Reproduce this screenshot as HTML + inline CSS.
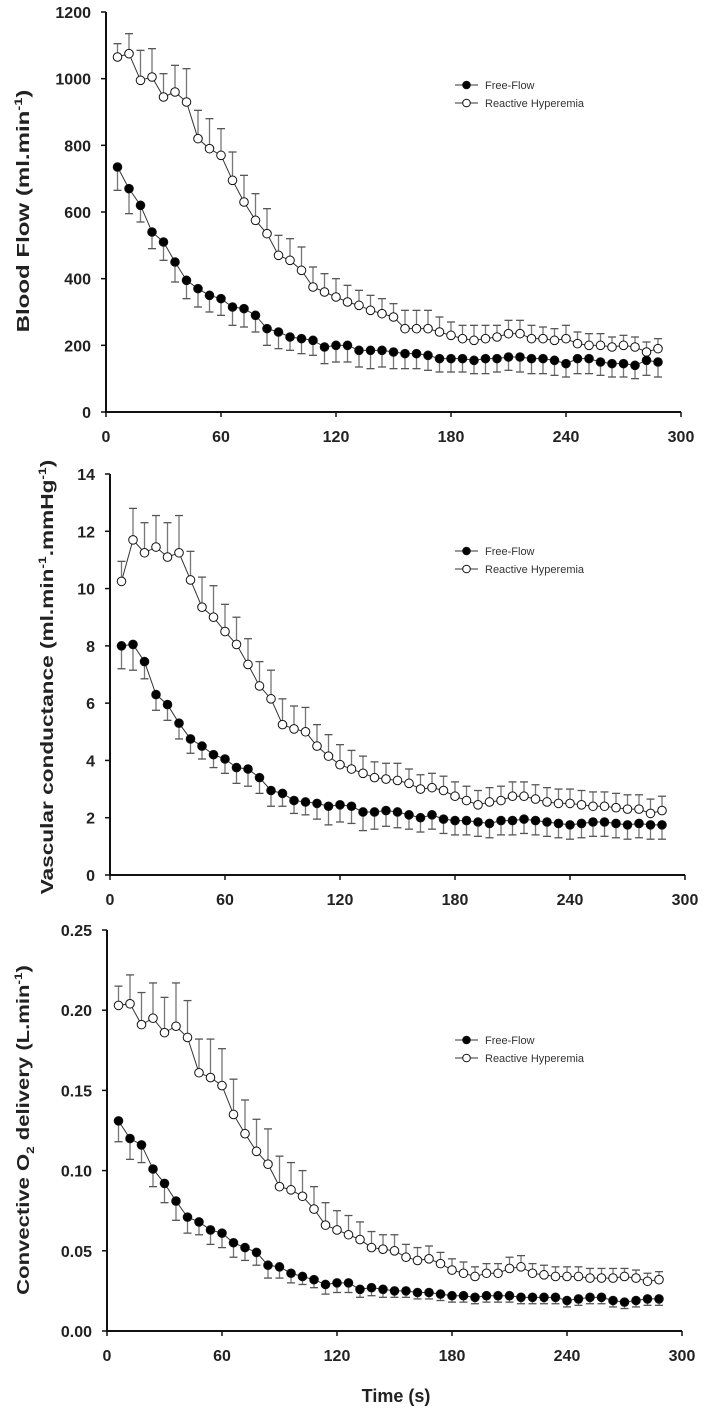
<!DOCTYPE html>
<html><head><meta charset="utf-8"><style>
body{margin:0;background:#fff;}
svg{display:block;font-family:"Liberation Sans",Arial,sans-serif;}
.tk{font-size:16px;font-weight:bold;fill:#222;}
.ttl{font-size:18px;font-weight:bold;fill:#222;}
.lg{font-size:11px;fill:#333;}
</style></head><body>
<svg id="c" width="720" height="1413"></svg>
<script>
const times=[6,12,18,24,30,36,42,48,54,60,66,72,78,84,90,96,102,108,114,120,126,132,138,144,150,156,162,168,174,180,186,192,198,204,210,216,222,228,234,240,246,252,258,264,270,276,282,288];
const xTicks=[0,60,120,180,240,300];
const bfFree=[735,670,620,540,510,450,395,370,350,340,315,310,290,250,240,225,220,215,195,200,200,185,185,185,180,175,175,170,160,160,160,155,160,160,165,165,160,160,155,145,160,160,150,145,145,140,155,150];
const bfFreeErr=[70,75,50,50,55,60,55,55,50,50,55,55,50,50,50,40,45,45,50,50,50,50,55,50,50,45,45,45,40,40,40,40,45,40,40,45,45,45,45,40,45,45,40,40,40,40,45,45];
const bfRH=[1065,1075,995,1005,945,960,930,820,790,770,695,630,575,535,470,455,425,375,360,345,330,320,305,295,285,250,250,250,240,230,220,215,220,225,235,235,220,220,215,220,205,200,200,195,200,195,180,190];
const bfRHErr=[40,60,90,85,70,80,100,85,90,80,85,80,80,75,60,65,70,60,55,55,50,45,45,45,40,55,55,55,45,40,40,45,40,35,40,40,40,35,35,40,35,35,35,30,30,30,30,30];
const bfTicks=[0,200,400,600,800,1000,1200];
const vcFree=[8.0,8.05,7.45,6.3,5.95,5.3,4.75,4.5,4.2,4.05,3.75,3.7,3.4,2.95,2.85,2.6,2.55,2.5,2.4,2.45,2.4,2.2,2.2,2.25,2.2,2.1,2.0,2.1,1.95,1.9,1.9,1.85,1.8,1.9,1.9,1.95,1.9,1.85,1.8,1.75,1.8,1.85,1.85,1.8,1.75,1.8,1.75,1.75];
const vcFreeErr=[0.8,0.9,0.6,0.55,0.55,0.55,0.5,0.45,0.45,0.5,0.55,0.6,0.55,0.55,0.45,0.45,0.45,0.55,0.65,0.6,0.6,0.65,0.6,0.55,0.55,0.5,0.5,0.5,0.5,0.5,0.5,0.5,0.5,0.5,0.5,0.5,0.5,0.5,0.5,0.5,0.5,0.5,0.5,0.5,0.5,0.5,0.5,0.5];
const vcRH=[10.25,11.7,11.25,11.45,11.1,11.25,10.3,9.35,9.0,8.5,8.05,7.35,6.6,6.15,5.25,5.1,5.0,4.5,4.15,3.85,3.7,3.55,3.4,3.35,3.3,3.2,3.0,3.05,2.95,2.75,2.6,2.45,2.55,2.6,2.75,2.75,2.65,2.55,2.5,2.5,2.45,2.4,2.4,2.35,2.3,2.3,2.15,2.25];
const vcRHErr=[0.7,1.1,1.05,1.1,1.2,1.3,1.0,1.05,1.1,0.95,0.95,0.9,0.85,1.0,0.9,0.8,0.85,0.75,0.75,0.7,0.65,0.6,0.55,0.55,0.6,0.5,0.5,0.5,0.5,0.5,0.5,0.5,0.5,0.5,0.5,0.5,0.5,0.5,0.5,0.5,0.5,0.5,0.5,0.5,0.5,0.5,0.5,0.5];
const vcTicks=[0,2,4,6,8,10,12,14];
const o2Free=[0.131,0.120,0.116,0.101,0.092,0.081,0.071,0.068,0.063,0.061,0.055,0.052,0.049,0.041,0.040,0.036,0.034,0.032,0.029,0.030,0.030,0.026,0.027,0.026,0.025,0.025,0.024,0.024,0.023,0.022,0.022,0.021,0.022,0.022,0.022,0.021,0.021,0.021,0.021,0.019,0.020,0.021,0.021,0.019,0.018,0.019,0.020,0.020];
const o2FreeErr=[0.013,0.013,0.011,0.011,0.012,0.012,0.01,0.008,0.009,0.009,0.009,0.008,0.008,0.008,0.007,0.006,0.005,0.005,0.006,0.006,0.006,0.005,0.005,0.005,0.004,0.004,0.004,0.004,0.004,0.004,0.004,0.004,0.004,0.004,0.004,0.004,0.004,0.004,0.004,0.004,0.004,0.004,0.004,0.004,0.004,0.004,0.004,0.004];
const o2RH=[0.203,0.204,0.191,0.195,0.186,0.190,0.183,0.161,0.158,0.153,0.135,0.123,0.112,0.104,0.090,0.088,0.084,0.076,0.066,0.063,0.060,0.057,0.052,0.051,0.050,0.046,0.044,0.045,0.042,0.038,0.036,0.034,0.036,0.036,0.039,0.040,0.036,0.035,0.034,0.034,0.034,0.033,0.033,0.033,0.034,0.033,0.031,0.032];
const o2RHErr=[0.012,0.018,0.02,0.022,0.022,0.027,0.023,0.021,0.024,0.023,0.022,0.021,0.02,0.022,0.019,0.017,0.016,0.014,0.014,0.012,0.012,0.011,0.01,0.009,0.01,0.008,0.008,0.008,0.007,0.007,0.007,0.006,0.006,0.006,0.007,0.007,0.006,0.006,0.006,0.006,0.006,0.006,0.006,0.006,0.005,0.005,0.005,0.005];
const o2Ticks=[0,0.05,0.10,0.15,0.20,0.25];

const svg=document.getElementById('c');
const NS='http://www.w3.org/2000/svg';
function mk(tag,attrs,parent){const e=document.createElementNS(NS,tag);for(const k in attrs)e.setAttribute(k,attrs[k]);(parent||svg).appendChild(e);return e;}

function panel(cfg){
  const g=mk('g',{});
  
  
  const x0=cfg.x0,xW=575,yB=cfg.yB,yT=cfg.yT,ymax=cfg.ticks[cfg.ticks.length-1];
  const sx=t=>x0+t/300*xW, sy=v=>yB-(v/ymax)*(yB-yT);
  const ax=mk('path',{d:`M${x0} ${yT} V${yB} H${x0+xW}`,stroke:'#111','stroke-width':2,fill:'none'},g);
  
  
  cfg.ticks.forEach(v=>{
    mk('line',{x1:x0-5,x2:x0,y1:sy(v),y2:sy(v),stroke:'#111','stroke-width':1.5},g);
    const t=mk('text',{x:x0-15,y:sy(v)+6,'text-anchor':'end',class:'tk'},g);
    t.textContent=cfg.fmt(v);
    
    
  });
  xTicks.forEach(v=>{
    mk('line',{x1:sx(v),x2:sx(v),y1:yB,y2:yB+5,stroke:'#111','stroke-width':1.5},g);
    const t=mk('text',{x:sx(v),y:yB+30,'text-anchor':'middle',class:'tk'},g);
    t.textContent=v;
    
    
  });
  const tt=mk('text',{x:0,y:6,'text-anchor':'middle',class:'ttl'},g);
  tt.innerHTML=cfg.title;
  
  
  const len=tt.getComputedTextLength()||1;
  tt.setAttribute('transform',`translate(${cfg.tx},${cfg.tc}) rotate(-90) scale(${cfg.tl/len},1)`);
  [[cfg.rh,cfg.rhErr,'#fff',1],[cfg.ff,cfg.ffErr,'#000',-1]].forEach(([vals,errs,fill,dir])=>{
    const sg=mk('g',{},g);
    
    
    vals.forEach((v,i)=>{
      const x=sx(times[i]),y=sy(v),ye=sy(v+dir*errs[i]);
      mk('line',{x1:x,x2:x,y1:y,y2:ye,stroke:'#777','stroke-width':1.3},sg);
      mk('line',{x1:x-4,x2:x+4,y1:ye,y2:ye,stroke:'#555','stroke-width':1.3},sg);
    });
    mk('polyline',{points:vals.map((v,i)=>sx(times[i])+','+sy(v)).join(' '),fill:'none',stroke:'#333','stroke-width':1},sg);
    vals.forEach((v,i)=>{
      const c=mk('circle',{cx:sx(times[i]),cy:sy(v),r:4.3,fill:fill,stroke:'#111','stroke-width':1},sg);
      
      
    });
  });
  const lg=mk('g',{},g);
  
  
  [['Free-Flow','#000',cfg.ly],['Reactive Hyperemia','#fff',cfg.ly+18]].forEach(([lab,f,y])=>{
    const e=mk('g',{},lg);
    
    
    mk('line',{x1:455,x2:478,y1:y,y2:y,stroke:'#333','stroke-width':1},e);
    mk('circle',{cx:466.5,cy:y,r:3.8,fill:f,stroke:'#111','stroke-width':1},e);
    const t=mk('text',{x:485,y:y+4,class:'lg'},e);t.textContent=lab;
  });
}
panel({name:'blood-flow-panel',x0:106,yB:412,yT:12,ticks:bfTicks,fmt:v=>v,ff:bfFree,ffErr:bfFreeErr,rh:bfRH,rhErr:bfRHErr,tx:23,tc:211,tl:243,ly:85,
  title:'Blood Flow (ml.min<tspan dy="-7" font-size="11">-1</tspan><tspan dy="7">)</tspan>'});
panel({name:'vascular-conductance-panel',x0:110,yB:875,yT:474,ticks:vcTicks,fmt:v=>v,ff:vcFree,ffErr:vcFreeErr,rh:vcRH,rhErr:vcRHErr,tx:47,tc:677,tl:435,ly:551,
  title:'Vascular conductance (ml.min<tspan dy="-7" font-size="11">-1</tspan><tspan dy="7">.mmHg</tspan><tspan dy="-7" font-size="11">-1</tspan><tspan dy="7">)</tspan>'});
panel({name:'o2-delivery-panel',x0:107,yB:1331,yT:930,ticks:o2Ticks,fmt:v=>v.toFixed(2),ff:o2Free,ffErr:o2FreeErr,rh:o2RH,rhErr:o2RHErr,tx:23,tc:1130,tl:330,ly:1040,
  title:'Convective O<tspan dy="5" font-size="11">2</tspan><tspan dy="-5"> delivery (L.min</tspan><tspan dy="-7" font-size="11">-1</tspan><tspan dy="7">)</tspan>'});
const xt=mk('text',{x:396,y:1402,'text-anchor':'middle',class:'ttl'});
xt.textContent='Time (s)';


</script>
</body></html>
